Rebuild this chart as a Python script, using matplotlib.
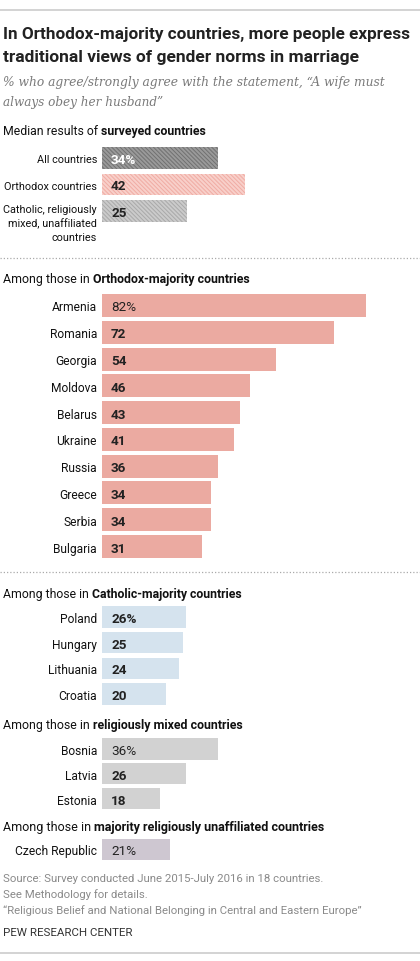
import matplotlib
matplotlib.use('Agg')
import matplotlib.pyplot as plt
from matplotlib import font_manager as fm
from matplotlib.lines import Line2D

# ---- data ----
median_labels = ['All countries', 'Orthodox countries',
                 'Catholic, religiously\nmixed, unaffiliated\ncountries']
median_values = [34, 42, 25]

orthodox_countries = ['Armenia', 'Romania', 'Georgia', 'Moldova', 'Belarus',
                      'Ukraine', 'Russia', 'Greece', 'Serbia', 'Bulgaria']
orthodox_values = [82, 72, 54, 46, 43, 41, 36, 34, 34, 31]

catholic_countries = ['Poland', 'Hungary', 'Lithuania', 'Croatia']
catholic_values = [26, 25, 24, 20]

mixed_countries = ['Bosnia', 'Latvia', 'Estonia']
mixed_values = [36, 26, 18]

unaffiliated_countries = ['Czech Republic']
unaffiliated_values = [21]

title_lines = ['In Orthodox-majority countries, more people express',
               'traditional views of gender norms in marriage']
subtitle_lines = ['% who agree/strongly agree with the statement, \u201cA wife must',
                  'always obey her husband\u201d']
source_lines = ['Source: Survey conducted June 2015-July 2016 in 18 countries.',
                'See Methodology for details.',
                '\u201cReligious Belief and National Belonging in Central and Eastern Europe\u201d']


def pick_family(names):
    for n in names:
        try:
            fm.findfont(fm.FontProperties(family=n), fallback_to_default=False)
            return n
        except ValueError:
            pass
    return 'DejaVu Sans'


SANS = pick_family(['Liberation Sans Narrow', 'Roboto', 'Liberation Sans'])
SERIF = pick_family(['DejaVu Serif', 'Liberation Serif'])
plt.rcParams['font.family'] = [SANS, 'DejaVu Sans']
plt.rcParams['hatch.linewidth'] = 1.4

W, H = 420, 962
BAR_X0 = 102
fig = plt.figure(figsize=(W / 100, H / 100), dpi=100)
fig.canvas.draw()
renderer = fig.canvas.get_renderer()


def fy(y):
    return 1 - y / H


def px_axes(x0, y0, x1, y1):
    return fig.add_axes([x0 / W, 1 - y1 / H, (x1 - x0) / W, (y1 - y0) / H])


def fit(texts, width):
    # scale font size so the texts together span `width` pixels
    for _ in range(3):
        bbs = [t.get_window_extent(renderer=renderer) for t in texts]
        w = max(b.x1 for b in bbs) - min(b.x0 for b in bbs)
        k = width / w
        for t in texts:
            t.set_fontsize(t.get_fontsize() * k)


def fitted_size(s, width):
    probe = fig.text(0, 0, s, fontsize=9)
    fit([probe], width)
    size = probe.get_fontsize()
    probe.remove()
    return size


def hline(y, **kw):
    fig.add_artist(Line2D([0, 1], [fy(y), fy(y)], transform=fig.transFigure, **kw))


# ---- title & subtitle ----
hline(11, color='#cccccc', lw=1.2)
t = fig.text(3 / W, fy(39), title_lines[0], fontsize=13, fontweight='bold', color='#222222', va='baseline')
fit([t], 407)
t = fig.text(3 / W, fy(62), title_lines[1], fontsize=13, fontweight='bold', color='#222222', va='baseline')
fit([t], 355)
for y, s, w in [(86, subtitle_lines[0], 384), (106, subtitle_lines[1], 160)]:
    t = fig.text(3 / W, fy(y), s, fontsize=10, family=SERIF, style='italic', color='#7a7a7a', va='baseline')
    fit([t], w)


def header(y, normal, bold, width):
    t1 = fig.text(3 / W, fy(y), normal, fontsize=9, color='#111111', va='baseline')
    t2 = fig.text(0, 0, bold, fontsize=9, fontweight='bold', color='#111111', va='baseline')
    for _ in range(3):
        b1 = t1.get_window_extent(renderer=renderer)
        t2.set_position((b1.x1 / W, fy(y)))
        b2 = t2.get_window_extent(renderer=renderer)
        k = width / (b2.x1 - b1.x0)
        t1.set_fontsize(t1.get_fontsize() * k)
        t2.set_fontsize(t2.get_fontsize() * k)
    b1 = t1.get_window_extent(renderer=renderer)
    t2.set_position((b1.x1 / W, fy(y)))


# label font sizes fitted to the widest labels
LABEL_FS = fitted_size('Czech Republic', 82)
MEDIAN_FS = fitted_size('Orthodox countries', 93)
VALUE_FS = LABEL_FS * 1.12


def section(y_top, y_bottom, labels, values, scale, height, color,
            first_color='#222222', first_weight='bold', label_fs=LABEL_FS):
    ax = px_axes(BAR_X0, y_top, W, y_bottom)
    n = len(values)
    pos = list(range(n))
    ax.barh(pos, values, height=height, color=color, linewidth=0)
    ax.set_xlim(0, (W - BAR_X0) / scale)
    ax.set_ylim(n - 0.5, -0.5)
    ax.set_xticks([])
    ax.set_yticks(pos, [l if '\n' not in l else '' for l in labels])
    ax.tick_params(axis='y', length=0, pad=3.6, labelsize=label_fs, labelcolor='#111111')
    for sp in ax.spines.values():
        sp.set_visible(False)
    ax.patch.set_alpha(0)
    for i, l in enumerate(labels):
        if '\n' in l:
            ax.annotate(l, xy=(0, i), xytext=(-3.6, 0.6 * label_fs), textcoords='offset points',
                        ha='right', va='top', fontsize=label_fs, color='#111111',
                        multialignment='right', linespacing=1.4, annotation_clip=False)
    for i, v in enumerate(values):
        s = f'{v}%' if i == 0 else str(v)
        ax.annotate(s, xy=(0, i), xytext=(6.5, 0), textcoords='offset points',
                    ha='left', va='center_baseline', fontsize=VALUE_FS,
                    fontweight='bold' if i > 0 else first_weight,
                    color=first_color if i == 0 else '#222222')
    return ax


# ---- median section ----
header(135, 'Median results of ', 'surveyed countries', 202)
med_faces = ['#717171', '#f0aca4', '#a9a9a9']
med_hatch = ['#9a9a9a', '#f8d0ca', '#cbcbcb']
axm = section(145.75, 225.25, median_labels, median_values, 3.4, 0.83, med_faces[0],
              first_color='white', label_fs=MEDIAN_FS)
for p, fc, hc in zip(axm.patches, med_faces, med_hatch):
    p.set_facecolor(fc)
    p.set_edgecolor(hc)
    p.set_hatch('\\' * 8)

hline(259, color='#aaaaaa', lw=0.9, linestyle=(0, (1, 1.6)))

# ---- orthodox ----
header(283, 'Among those in ', 'Orthodox-majority countries', 245)
section(293.1, 560.9, orthodox_countries, orthodox_values, 3.22, 0.86, '#ebaaa1',
        first_weight='normal')

hline(573, color='#aaaaaa', lw=0.9, linestyle=(0, (1, 1.6)))

# ---- catholic ----
header(598, 'Among those in ', 'Catholic-majority countries', 240)
section(605.2, 707.8, catholic_countries, catholic_values, 3.22, 0.84, '#d5e3ee')

# ---- mixed ----
header(729, 'Among those in ', 'religiously mixed countries', 239)
section(737.6, 811.9, mixed_countries, mixed_values, 3.22, 0.85, '#d2d2d2',
        first_weight='normal')

# ---- unaffiliated ----
header(831, 'Among those in ', 'majority religiously unaffiliated countries', 320)
section(838, 863, unaffiliated_countries, unaffiliated_values, 3.22, 0.84, '#cec7d1',
        first_weight='normal')

# ---- footer ----
src = [fig.text(3 / W, fy(y), s, fontsize=8, color='#8a8a8a', va='baseline')
       for y, s in zip([882, 898, 914], source_lines)]
fit([src[-1]], 359)
for tt in src[:-1]:
    tt.set_fontsize(src[-1].get_fontsize())
t = fig.text(3 / W, fy(936), 'PEW RESEARCH CENTER', fontsize=8, color='#333333', va='baseline')
fit([t], 129)
hline(954, color='#cccccc', lw=1.2)

fig.savefig('out.png', dpi=100)
